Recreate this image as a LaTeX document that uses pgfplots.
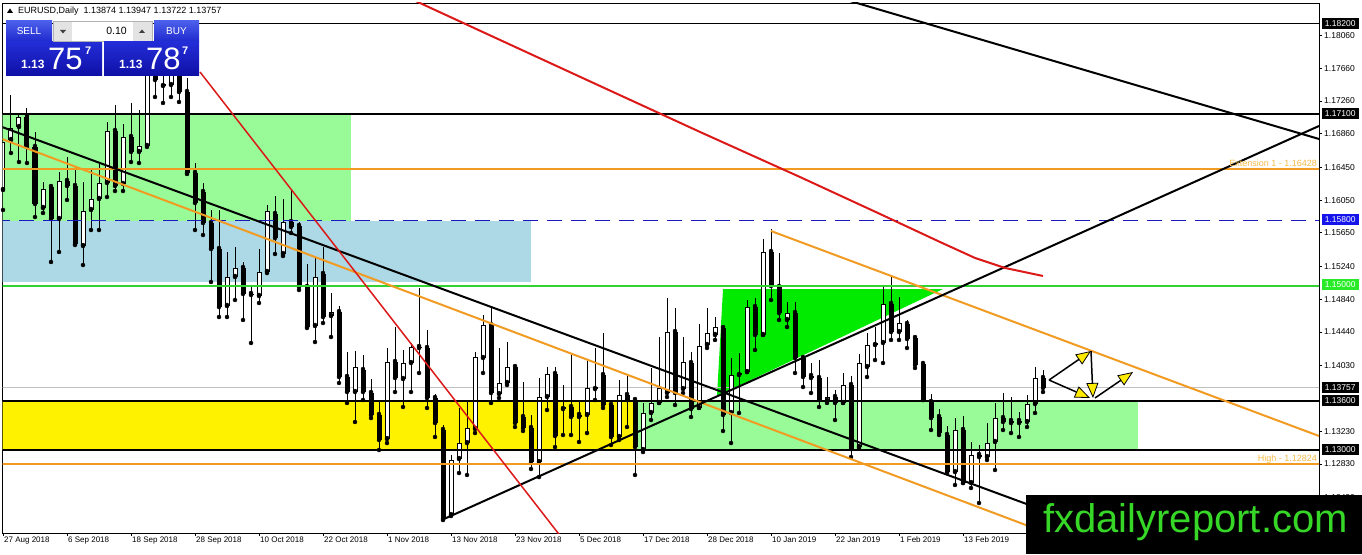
\documentclass[border=0pt]{standalone}
\usepackage{fontspec}
\setmainfont{Liberation Sans}
\usepackage{pgfplots}
\usepackage{pgfplotstable}
\pgfplotsset{compat=1.18}
\usetikzlibrary{arrows.meta}

\definecolor{mtorange}{RGB}{242,155,35}
\definecolor{mtlabel}{RGB}{245,185,70}
\definecolor{mtred}{RGB}{220,25,25}
\definecolor{mtgreen}{RGB}{50,210,50}
\definecolor{mtblue}{RGB}{25,25,190}
\definecolor{palegr}{RGB}{152,251,152}
\definecolor{lblue}{RGB}{173,216,230}
\definecolor{limegr}{RGB}{0,235,0}
\definecolor{bidgrey}{RGB}{192,192,192}
\definecolor{webgreen}{RGB}{55,215,40}
\definecolor{boxblue}{RGB}{20,20,235}
\definecolor{boxgreen}{RGB}{40,235,40}
\definecolor{hdrtop}{RGB}{75,95,235}
\definecolor{hdrbot}{RGB}{30,40,205}
\definecolor{pricetop}{RGB}{35,45,215}
\definecolor{pricebot}{RGB}{15,15,165}
\definecolor{arrowyel}{RGB}{255,235,0}

% EURUSD daily: index, open, high, low, close
\pgfplotstableread{
i o h l c
0 1.16174 1.16784 1.15930 1.16760
1 1.16784 1.17333 1.16625 1.16930
2 1.16943 1.17114 1.16515 1.17065
3 1.17065 1.17175 1.16503 1.16699
4 1.16699 1.16882 1.15844 1.16003
5 1.15954 1.16271 1.15893 1.16186
6 1.16210 1.16235 1.15295 1.15820
7 1.15820 1.16393 1.15417 1.16284
8 1.16284 1.16576 1.16052 1.16222
9 1.16222 1.16454 1.15502 1.15514
10 1.15490 1.16271 1.15258 1.15917
11 1.15930 1.16418 1.15685 1.16064
12 1.16064 1.16503 1.15685 1.16259
13 1.16259 1.17004 1.16088 1.16894
14 1.16894 1.17211 1.16161 1.16222
15 1.16247 1.16979 1.16161 1.16821
16 1.16821 1.17236 1.16515 1.16638
17 1.16638 1.17150 1.16503 1.16711
18 1.16711 1.17870 1.16699 1.17736
19 1.17748 1.17858 1.17309 1.17516
20 1.17443 1.18139 1.17236 1.17468
21 1.17455 1.17846 1.17309 1.17614
22 1.17614 1.17931 1.17248 1.17370
23 1.17370 1.17541 1.16369 1.16381
24 1.16381 1.16503 1.15685 1.16015
25 1.16149 1.16259 1.15624 1.15771
26 1.15771 1.15930 1.15051 1.15453
27 1.15453 1.15930 1.14623 1.14745
28 1.14758 1.15417 1.14623 1.15112
29 1.15112 1.15478 1.14831 1.15222
30 1.15222 1.15295 1.14587 1.14904
31 1.14904 1.15014 1.14306 1.14892
32 1.14880 1.15453 1.14794 1.15173
33 1.15173 1.15991 1.15160 1.15917
34 1.15881 1.16100 1.15392 1.15588
35 1.15392 1.16064 1.15368 1.15783
36 1.15783 1.16174 1.15649 1.15722
37 1.15734 1.15783 1.14953 1.14990
38 1.14990 1.15270 1.14489 1.14501
39 1.14514 1.15344 1.14318 1.15112
40 1.15148 1.15478 1.14550 1.14623
41 1.14636 1.14916 1.14379 1.14684
42 1.14684 1.14758 1.13818 1.13891
43 1.13891 1.14196 1.13574 1.13708
44 1.13708 1.14208 1.13342 1.14013
45 1.13976 1.14160 1.13610 1.13708
46 1.13696 1.13867 1.13390 1.13427
47 1.13427 1.13586 1.13000 1.13122
48 1.13134 1.14245 1.13085 1.14074
49 1.14074 1.14501 1.13708 1.13879
50 1.13867 1.14221 1.13525 1.14062
51 1.14062 1.14306 1.13708 1.14257
52 1.14257 1.14977 1.13940 1.14245
53 1.14245 1.14465 1.13513 1.13635
54 1.13635 1.13683 1.13159 1.13329
55 1.13244 1.13305 1.12145 1.12158
56 1.12206 1.12939 1.12194 1.12878
57 1.12890 1.13513 1.12719 1.13085
58 1.13085 1.13610 1.12695 1.13268
59 1.13256 1.14196 1.13207 1.14135
60 1.14123 1.14648 1.13940 1.14526
61 1.14526 1.14733 1.13574 1.13696
62 1.13683 1.14245 1.13635 1.13818
63 1.13818 1.14318 1.13793 1.14013
64 1.14013 1.14037 1.13281 1.13329
65 1.13403 1.13830 1.13232 1.13268
66 1.13268 1.13427 1.12768 1.12853
67 1.12853 1.13879 1.12670 1.13647
68 1.13647 1.14013 1.13488 1.13928
69 1.13928 1.14013 1.13036 1.13171
70 1.13500 1.13793 1.13183 1.13525
71 1.13525 1.14160 1.13183 1.13403
72 1.13427 1.13586 1.13098 1.13403
73 1.13427 1.14086 1.13207 1.13757
74 1.13744 1.14245 1.13610 1.13769
75 1.13915 1.14428 1.13513 1.13549
76 1.13549 1.13574 1.13061 1.13159
77 1.13159 1.13854 1.13122 1.13671
78 1.13671 1.13903 1.13281 1.13610
79 1.13610 1.13635 1.12695 1.13036
80 1.13000 1.13574 1.12975 1.13452
81 1.13452 1.14001 1.13366 1.13574
82 1.13574 1.14379 1.13574 1.13757
83 1.13696 1.14855 1.13647 1.14440
84 1.14440 1.14733 1.13549 1.13696
85 1.13744 1.14379 1.13696 1.14074
86 1.14062 1.14196 1.13403 1.13500
87 1.13513 1.14538 1.13513 1.14269
88 1.14282 1.14733 1.14245 1.14428
89 1.14404 1.14623 1.14343 1.14501
90 1.14489 1.14489 1.13232 1.13427
91 1.13452 1.14123 1.13085 1.13915
92 1.13915 1.14184 1.13452 1.13940
93 1.13952 1.14831 1.13952 1.14745
94 1.14745 1.14855 1.14221 1.14404
95 1.14404 1.15576 1.14404 1.15417
96 1.15417 1.15698 1.14831 1.15002
97 1.14990 1.15405 1.14587 1.14672
98 1.14587 1.14806 1.14501 1.14672
99 1.14672 1.14806 1.13940 1.14123
100 1.14123 1.14135 1.13769 1.13891
101 1.13903 1.14062 1.13696 1.13879
102 1.13879 1.14098 1.13525 1.13610
103 1.13598 1.13891 1.13574 1.13647
104 1.13647 1.13732 1.13366 1.13574
105 1.13574 1.13940 1.13574 1.13793
106 1.13793 1.13903 1.12914 1.13012
107 1.13036 1.14172 1.13024 1.14062
108 1.14013 1.14428 1.13891 1.14282
109 1.14282 1.14501 1.14098 1.14306
110 1.14306 1.14990 1.14062 1.14782
111 1.14782 1.15136 1.14343 1.14440
112 1.14440 1.14868 1.14343 1.14550
113 1.14538 1.14587 1.14245 1.14355
114 1.14367 1.14391 1.14001 1.14037
115 1.14050 1.14086 1.13610 1.13610
116 1.13586 1.13683 1.13244 1.13390
117 1.13403 1.13500 1.13183 1.13207
118 1.13183 1.13293 1.12719 1.12731
119 1.12731 1.13390 1.12573 1.13244
120 1.13244 1.13415 1.12597 1.12597
121 1.12597 1.13098 1.12536 1.12939
122 1.12939 1.13061 1.12353 1.12914
123 1.12914 1.13329 1.12878 1.13085
124 1.13098 1.13574 1.12756 1.13390
125 1.13390 1.13696 1.13244 1.13342
126 1.13354 1.13647 1.13207 1.13329
127 1.13354 1.13464 1.13159 1.13329
128 1.13342 1.13671 1.13281 1.13561
129 1.13561 1.14013 1.13452 1.13879
130 1.13879 1.13976 1.13708 1.13757
}\candles

\begin{document}
\begin{tikzpicture}
\useasboundingbox (0,0) rectangle (1362pt,554pt);
\begin{axis}[
    at={(2.7pt,21pt)}, anchor=south west,
    scale only axis, width=1316.3pt, height=530pt,
    xmin=-0.0375, xmax=164.5, ymin=1.11987, ymax=1.18456,
    axis line style={line width=0.8pt},
    tick align=outside, major tick length=3pt,
    tick style={black, line width=0.8pt},
    xtick pos=bottom, ytick pos=right, yticklabel pos=right,
    xtick={0,8,...,120},
    xticklabels={27 Aug 2018,6 Sep 2018,18 Sep 2018,28 Sep 2018,10 Oct 2018,22 Oct 2018,1 Nov 2018,13 Nov 2018,23 Nov 2018,5 Dec 2018,17 Dec 2018,28 Dec 2018,10 Jan 2019,22 Jan 2019,1 Feb 2019,13 Feb 2019},
    xticklabel style={anchor=north west, inner sep=0pt, xshift=1pt, yshift=-1pt, font=\fontsize{8}{9}\selectfont},
    ytick={1.18060,1.17660,1.17260,1.16860,1.16450,1.16050,1.15650,1.15240,1.14840,1.14440,1.14030,1.13230,1.12830,1.12420},
    yticklabels={1.18060,1.17660,1.17260,1.16860,1.16450,1.16050,1.15650,1.15240,1.14840,1.14440,1.14030,1.13230,1.12830,1.12420},
    yticklabel style={anchor=west, inner sep=0pt, xshift=2pt, font=\fontsize{8.5}{9}\selectfont},
    clip mode=individual,
]
% zones
\addplot[fill=palegr, draw=none] coordinates {(-1,1.171)(43.5,1.171)(43.5,1.158)(-1,1.158)};
\addplot[fill=lblue, draw=none] coordinates {(-1,1.158)(66,1.158)(66,1.1505)(-1,1.1505)};
\addplot[fill=yellow, draw=none] coordinates {(-1,1.136)(79,1.136)(79,1.130)(-1,1.130)};
\addplot[fill=palegr, draw=none] coordinates {(79,1.136)(141.875,1.136)(141.875,1.130)(79,1.130)};
\addplot[fill=limegr, draw=none] coordinates {(90,1.14965)(117.5,1.14965)(89.25,1.13659)};
\addplot[bidgrey, line width=1pt] coordinates {(-1,1.13757)(166,1.13757)};

% candles: wicks, body outline, white fill
\addplot[only marks, mark=none, error bars/.cd, y dir=plus, y explicit, error mark=none,
    error bar style={black, line width=1pt}]
    table[x=i, y=l, y error expr=\thisrow{h}-\thisrow{l}] {\candles};
\addplot[only marks, mark=none, error bars/.cd, y dir=plus, y explicit, error mark=none,
    error bar style={black, line width=5pt}]
    table[x=i, y expr={min(\thisrow{o},\thisrow{c})}, y error expr={max(abs(\thisrow{c}-\thisrow{o}),0.00012)}] {\candles};
\addplot[only marks, mark=none, error bars/.cd, y dir=plus, y explicit, error mark=none,
    error bar style={white, line width=3pt}]
    table[x=i, y expr={\thisrow{o}+0.00012}, y error expr={max(\thisrow{c}-\thisrow{o}-0.00024,0)}] {\candles};

% horizontal levels
\addplot[black, line width=1pt] coordinates {(-1,1.182)(166,1.182)};
\addplot[black, line width=2pt] coordinates {(-1,1.171)(166,1.171)};
\addplot[mtorange, line width=2pt] coordinates {(-1,1.16428)(166,1.16428)};
\addplot[mtblue, line width=1pt, dash pattern=on 15pt off 9pt] coordinates {(-1,1.158)(166,1.158)};
\addplot[mtgreen, line width=2pt] coordinates {(-1,1.15)(166,1.15)};
\addplot[black, line width=2pt] coordinates {(-1,1.136)(166,1.136)};
\addplot[black, line width=2pt] coordinates {(-1,1.13)(166,1.13)};
\addplot[mtorange, line width=2pt] coordinates {(-1,1.12824)(166,1.12824)};

% trend lines
\addplot[black, line width=2pt] coordinates {(-0.125,1.16943)(137.125,1.12011)};
\addplot[mtorange, line width=2pt] coordinates {(-0.125,1.16796)(137.125,1.11743)};
\addplot[mtorange, line width=2pt] coordinates {(96,1.15673)(164.5,1.13171)};
\addplot[black, line width=2pt] coordinates {(104.6,1.18517)(164.5,1.16796)};
\addplot[black, line width=2pt] coordinates {(55.125,1.12158)(164.5,1.16955)};
\addplot[mtred, line width=1.5pt] coordinates {(24.625,1.17614)(70.25,1.11877)};
\addplot[mtred, line width=2pt] coordinates {(51.25,1.18495)(62.125,1.18005)(74.625,1.17443)(87.125,1.16882)(99.625,1.16332)(109.625,1.15881)(117.125,1.15539)(121.5,1.15344)(125.25,1.15222)(130,1.15124)};

% projection arrows
\addplot[black, line width=1.5pt, -{Triangle[length=15pt, width=12pt, fill=arrowyel, line width=0.8pt]}] coordinates {(130.75,1.13854)(136,1.14208)};
\addplot[black, line width=1.5pt, -{Triangle[length=15pt, width=12pt, fill=arrowyel, line width=0.8pt]}] coordinates {(130.75,1.13854)(135.875,1.13635)};
\addplot[black, line width=1.5pt, -{Triangle[length=15pt, width=12pt, fill=arrowyel, line width=0.8pt]}] coordinates {(136,1.14208)(136.25,1.13635)};
\addplot[black, line width=1.5pt, -{Triangle[length=15pt, width=12pt, fill=arrowyel, line width=0.8pt]}] coordinates {(136.5,1.13635)(141.25,1.13952)};
\end{axis}

\begin{scope}[x=1pt, y=-1pt, shift={(0,554pt)}]
% tick of the hidden last date, under the watermark
\draw[black, line width=0.8pt] (1027,533) -- (1027,536);
% price flags on the scale
\foreach \yy/\col/\txt in {24/black/1.18200, 113.5/black/1.17100, 220/boxblue/1.15800, 285/boxgreen/1.15000, 388/black/1.13757, 401/black/1.13600, 450/black/1.13000}
  \node[fill=\col, text=white, inner sep=0pt, minimum height=11pt, minimum width=37pt, anchor=west, font=\fontsize{8.5}{9}\selectfont] at (1321.5,\yy) {\txt};
% level captions
\node[anchor=base east, inner sep=0pt, text=mtlabel, font=\fontsize{9}{10}\selectfont] at (1317,167) {Extension 1 - 1.16428};
\node[anchor=base east, inner sep=0pt, text=mtlabel, font=\fontsize{9}{10}\selectfont] at (1317,462) {High - 1.12824};
% watermark
\fill[black] (1026,495) rectangle (1362,554);
\node[anchor=base west, inner sep=0pt, text=webgreen, font=\fontsize{40}{40}\selectfont] at (1043,533) {fxdailyreport.com};
% header
\fill[black] (7,13) -- (13,13) -- (10,8.5) -- cycle;
\node[anchor=base west, inner sep=0pt, font=\fontsize{9}{10}\selectfont] at (18,14) {EURUSD,Daily\ \ 1.13874 1.13947 1.13722 1.13757};
% one-click trading panel
\shade[top color=hdrtop, bottom color=hdrbot] (6,21) rectangle (52,42);
\node[text=white, inner sep=0pt, font=\fontsize{10}{11}\selectfont] at (29,31.5) {SELL};
\draw[white!60!hdrtop, line width=0.8pt] (9,41.5) -- (49,41.5);
\shade[top color=pricetop, bottom color=pricebot] (6,42) rectangle (102,76);
\node[anchor=base west, inner sep=0pt, text=white, font=\bfseries\fontsize{12}{12}\selectfont] at (21,69) {1.13};
\node[anchor=base west, inner sep=0pt, text=white, font=\fontsize{31}{31}\selectfont] at (48,70) {75};
\node[anchor=base west, inner sep=0pt, text=white, font=\bfseries\fontsize{11}{11}\selectfont] at (85,55) {7};
\fill[white] (53,21) rectangle (153,42);
\draw[gray!60] (53.5,21.5) rectangle (152.5,41.5);
\fill[gray!22] (54,22) rectangle (72,41);
\fill[gray!22] (133,22) rectangle (152,41);
\fill[black!75] (60,30) -- (66,30) -- (63,33.5) -- cycle;
\fill[black!75] (139,33) -- (145,33) -- (142,29.5) -- cycle;
\node[anchor=base east, inner sep=0pt, font=\fontsize{10.5}{11}\selectfont] at (127,35) {0.10};
\shade[top color=hdrtop, bottom color=hdrbot] (154,21) rectangle (199,42);
\node[text=white, inner sep=0pt, font=\fontsize{10}{11}\selectfont] at (176.5,31.5) {BUY};
\draw[white!60!hdrtop, line width=0.8pt] (157,41.5) -- (196,41.5);
\shade[top color=pricetop, bottom color=pricebot] (104,42) rectangle (199,76);
\node[anchor=base west, inner sep=0pt, text=white, font=\bfseries\fontsize{12}{12}\selectfont] at (119,69) {1.13};
\node[anchor=base west, inner sep=0pt, text=white, font=\fontsize{31}{31}\selectfont] at (146,70) {78};
\node[anchor=base west, inner sep=0pt, text=white, font=\bfseries\fontsize{11}{11}\selectfont] at (182,55) {7};
\end{scope}
\end{tikzpicture}
\end{document}
